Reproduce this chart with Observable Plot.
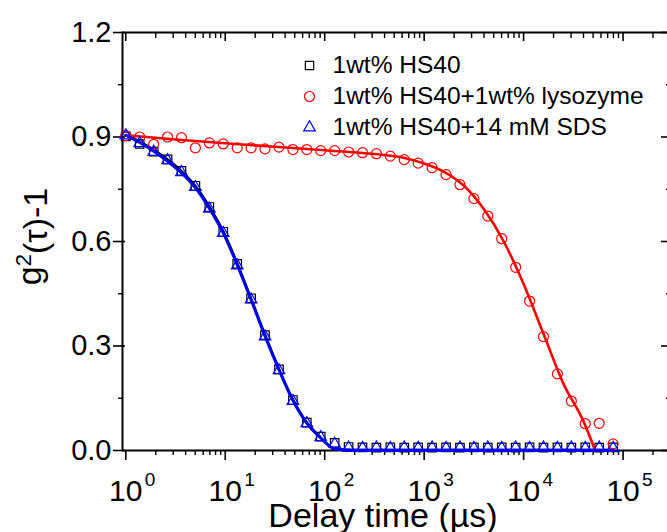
<!DOCTYPE html>
<html>
<head>
<meta charset="utf-8">
<script src="https://cdn.jsdelivr.net/npm/d3@7"></script>
<script src="https://cdn.jsdelivr.net/npm/@observablehq/plot@0.6"></script>
<style>
  html, body { margin: 0; padding: 0; background: #fff; }
  #chart svg { display: block; }
  #chart svg, #chart svg text { font-family: "Liberation Sans", Arial, Helvetica, sans-serif !important; }
</style>
</head>
<body>
<div id="chart"></div>
<script>
// ---- data ----
const delayTimes = [1, 1.38, 1.91, 2.63, 3.63, 5.01, 6.92, 9.55, 13.2, 18.2, 25.1, 34.7, 47.9, 66.1, 91.2,
  126, 174, 240, 331, 457, 631, 871, 1202, 1660, 2291, 3162, 4365, 6026, 8318, 11482, 15849, 21878,
  30200, 41687, 57544, 79433];

const hs40 = [0.902, 0.880, 0.858, 0.836, 0.803, 0.760, 0.699, 0.628, 0.536, 0.437, 0.331, 0.233, 0.145,
  0.080, 0.040, 0.022, 0.010, 0.009, 0.008, 0.009, 0.008, 0.009, 0.008, 0.009, 0.008, 0.009, 0.008,
  0.009, 0.008, 0.009, 0.008, 0.009, 0.008, 0.009, 0.008, 0.009];

const hs40Lysozyme = [0.904, 0.900, 0.879, 0.900, 0.898, 0.869, 0.883, 0.880, 0.869, 0.869, 0.866, 0.871,
  0.864, 0.864, 0.861, 0.861, 0.857, 0.855, 0.852, 0.845, 0.835, 0.825, 0.812, 0.792, 0.763, 0.723,
  0.673, 0.608, 0.526, 0.429, 0.327, 0.220, 0.142, 0.077, 0.078, 0.019];

const hs40Sds = [0.904, 0.882, 0.857, 0.833, 0.799, 0.756, 0.694, 0.624, 0.531, 0.433, 0.327, 0.230, 0.142,
  0.078, 0.038, 0.019, 0.008, 0.007, 0.008, 0.007, 0.008, 0.007, 0.008, 0.007, 0.008, 0.007, 0.008,
  0.007, 0.008, 0.007, 0.008, 0.007, 0.008, 0.007, 0.008, 0.007];

// fitted curves
const fitTimesFast = [1, 1.38, 1.91, 2.63, 3.63, 5.01, 6.92, 9.55, 13.2, 18.2, 25.1, 34.7, 47.9, 66.1, 91.2, 112, 126, 200, 1000, 10000, 79433];
const fitHs40 = [0.905, 0.887, 0.863, 0.835, 0.802, 0.759, 0.700, 0.629, 0.537, 0.436, 0.332, 0.234, 0.146, 0.080, 0.037, 0.013, 0.004, 0.001, 0.001, 0.001, 0.001];
const fitSds = [0.905, 0.884, 0.859, 0.830, 0.797, 0.754, 0.695, 0.624, 0.532, 0.432, 0.328, 0.231, 0.143, 0.078, 0.036, 0.012, 0.004, 0.001, 0.001, 0.001, 0.001];
const fitTimesSlow = [1, 3.16, 10, 31.6, 100, 316, 631, 1000, 1585, 2512, 3981, 6310, 10000, 15849, 25119, 39811, 52481];
const fitLysozyme = [0.905, 0.893, 0.882, 0.872, 0.862, 0.851, 0.840, 0.824, 0.800, 0.760, 0.693, 0.600, 0.478, 0.335, 0.192, 0.085, 0.0];

const seriesNames = ["1wt% HS40", "1wt% HS40+1wt% lysozyme", "1wt% HS40+14 mM SDS"];
const seriesColors = ["#000000", "#ff0000", "#0000ff"];
const seriesSymbols = ["square", "circle", "triangle"];

const xMajorTicks = [1, 10, 100, 1000, 10000, 100000];
const xTickExponents = ["0", "1", "2", "3", "4", "5"];
const xMinorTicks = [2, 3, 4, 5, 6, 7, 8, 9, 20, 30, 40, 50, 60, 70, 80, 90, 200, 300, 400, 500, 600, 700, 800, 900,
  2000, 3000, 4000, 5000, 6000, 7000, 8000, 9000, 20000, 30000, 40000, 50000, 60000, 70000, 80000, 90000, 200000];
const yMajorTicks = [0, 0.3, 0.6, 0.9, 1.2];
const yTickLabels = ["0.0", "0.3", "0.6", "0.9", "1.2"];
const yMinorTicks = [0.15, 0.45, 0.75, 1.05];

const xLabel = "Delay time (\u00b5s)";
const yLabelParts = ["g", "2", "(\u03c4)-1"];   // g²(τ)-1

// ---- build tables ----
const pts = (vals) => delayTimes.map((t, i) => ({t, v: vals[i]}));
const fit = (ts, vals) => ts.map((t, i) => ({t, v: vals[i]}));

const FONT = "Liberation Sans, Arial, Helvetica, sans-serif";

const legendMarks = [];
const legendRowDy = [33, 64, 95];
const legendR = [4.7, 5, 4.3];
seriesNames.forEach((name, i) => {
  legendMarks.push(Plot.dot([name], {frameAnchor: "top-left", dx: 187, dy: legendRowDy[i],
    symbol: seriesSymbols[i], r: legendR[i], stroke: seriesColors[i], strokeWidth: 1.2, fill: "none"}));
  legendMarks.push(Plot.text([name], {frameAnchor: "top-left", dx: 210, dy: legendRowDy[i],
    text: d => d, textAnchor: "start", lineAnchor: "middle", fontSize: 24.5, fontFamily: FONT, fill: "black"}));
});

const chart = Plot.plot({
  width: 667,
  height: 532,
  marginLeft: 122,
  marginTop: 32,
  marginBottom: 82,
  marginRight: -2,
  x: {type: "log", domain: [0.927, 2.93e5]},
  y: {domain: [0, 1.2]},
  style: {fontFamily: FONT, background: "white", color: "black"},
  marks: [
    // ticks
    Plot.axisX(xMajorTicks, {anchor: "bottom", tickSize: 10, tickFormat: () => "", strokeWidth: 1.6, label: null}),
    Plot.axisX(xMinorTicks, {anchor: "bottom", tickSize: 5, tickFormat: () => "", strokeWidth: 1.4, label: null}),
    Plot.axisX(xMajorTicks, {anchor: "top", tickSize: -8, tickFormat: () => "", strokeWidth: 1.6, label: null}),
    Plot.axisX(xMinorTicks, {anchor: "top", tickSize: -5, tickFormat: () => "", strokeWidth: 1.4, label: null}),
    Plot.axisY(yMajorTicks, {anchor: "left", tickSize: 9, tickFormat: () => "", strokeWidth: 1.6, label: null}),
    Plot.axisY(yMajorTicks, {anchor: "left", tickSize: -3, tickFormat: () => "", strokeWidth: 1.6, label: null}),
    Plot.axisY(yMinorTicks, {anchor: "left", tickSize: 4, tickFormat: () => "", strokeWidth: 1.4, label: null}),
    Plot.axisY(yMajorTicks, {anchor: "right", tickSize: -9, tickFormat: () => "", strokeWidth: 1.6, label: null}),
    Plot.axisY(yMinorTicks, {anchor: "right", tickSize: -4, tickFormat: () => "", strokeWidth: 1.4, label: null}),
    Plot.frame({stroke: "black", strokeWidth: 2}),

    // tick labels
    Plot.text(yMajorTicks, {y: d => d, text: (d, i) => yTickLabels[i], frameAnchor: "left", dx: -11,
      textAnchor: "end", lineAnchor: "middle", fontSize: 29, fontFamily: FONT, fill: "black"}),
    Plot.text(xMajorTicks, {x: d => d, text: () => "10", frameAnchor: "bottom", dy: 50,
      textAnchor: "middle", lineAnchor: "bottom", fontSize: 30, fontFamily: FONT, fill: "black"}),
    Plot.text(xMajorTicks, {x: d => d, text: (d, i) => xTickExponents[i], frameAnchor: "bottom", dy: 35, dx: 19,
      textAnchor: "start", lineAnchor: "bottom", fontSize: 19, fontFamily: FONT, fill: "black"}),

    // axis titles
    Plot.text([xLabel], {frameAnchor: "bottom", dx: -13, dy: 76, text: d => d, textAnchor: "middle",
      lineAnchor: "bottom", fontSize: 34, fontFamily: FONT, fill: "black"}),
    Plot.text([yLabelParts.join("")], {frameAnchor: "left", dx: -92, dy: -5, rotate: -90, text: d => d,
      textAnchor: "middle", lineAnchor: "middle", fontSize: 34, fontFamily: FONT, fill: "black"}),

    // series
    Plot.dot(pts(hs40), {x: "t", y: "v", symbol: "square", r: 4.8, stroke: seriesColors[0], strokeWidth: 1.2, fill: "none"}),
    Plot.line(fit(fitTimesFast, fitHs40), {x: "t", y: "v", stroke: seriesColors[0], strokeWidth: 2.6, curve: "monotone-x"}),
    Plot.dot(pts(hs40Lysozyme), {x: "t", y: "v", symbol: "circle", r: 5, stroke: seriesColors[1], strokeWidth: 1.2, fill: "none"}),
    Plot.line(fit(fitTimesSlow, fitLysozyme), {x: "t", y: "v", stroke: seriesColors[1], strokeWidth: 2.6, curve: "monotone-x"}),
    Plot.dot(pts(hs40Sds), {x: "t", y: "v", symbol: "triangle", r: 4.3, stroke: seriesColors[2], strokeWidth: 1.2, fill: "none"}),
    Plot.line(fit(fitTimesFast, fitSds), {x: "t", y: "v", stroke: seriesColors[2], strokeWidth: 2.8, curve: "monotone-x"}),

    ...legendMarks
  ]
});

// turn the y title into g with a real superscript 2
d3.select(chart).selectAll("text").filter(function () {
  return this.textContent === yLabelParts.join("");
}).each(function () {
  const t = d3.select(this);
  t.text(null);
  t.append("tspan").text(yLabelParts[0]);
  t.append("tspan").attr("font-size", 22).attr("dy", "-0.45em").text(yLabelParts[1]);
  t.append("tspan").attr("dy", "0.45em").text(yLabelParts[2]);
});

document.getElementById("chart").appendChild(chart);
</script>
</body>
</html>
